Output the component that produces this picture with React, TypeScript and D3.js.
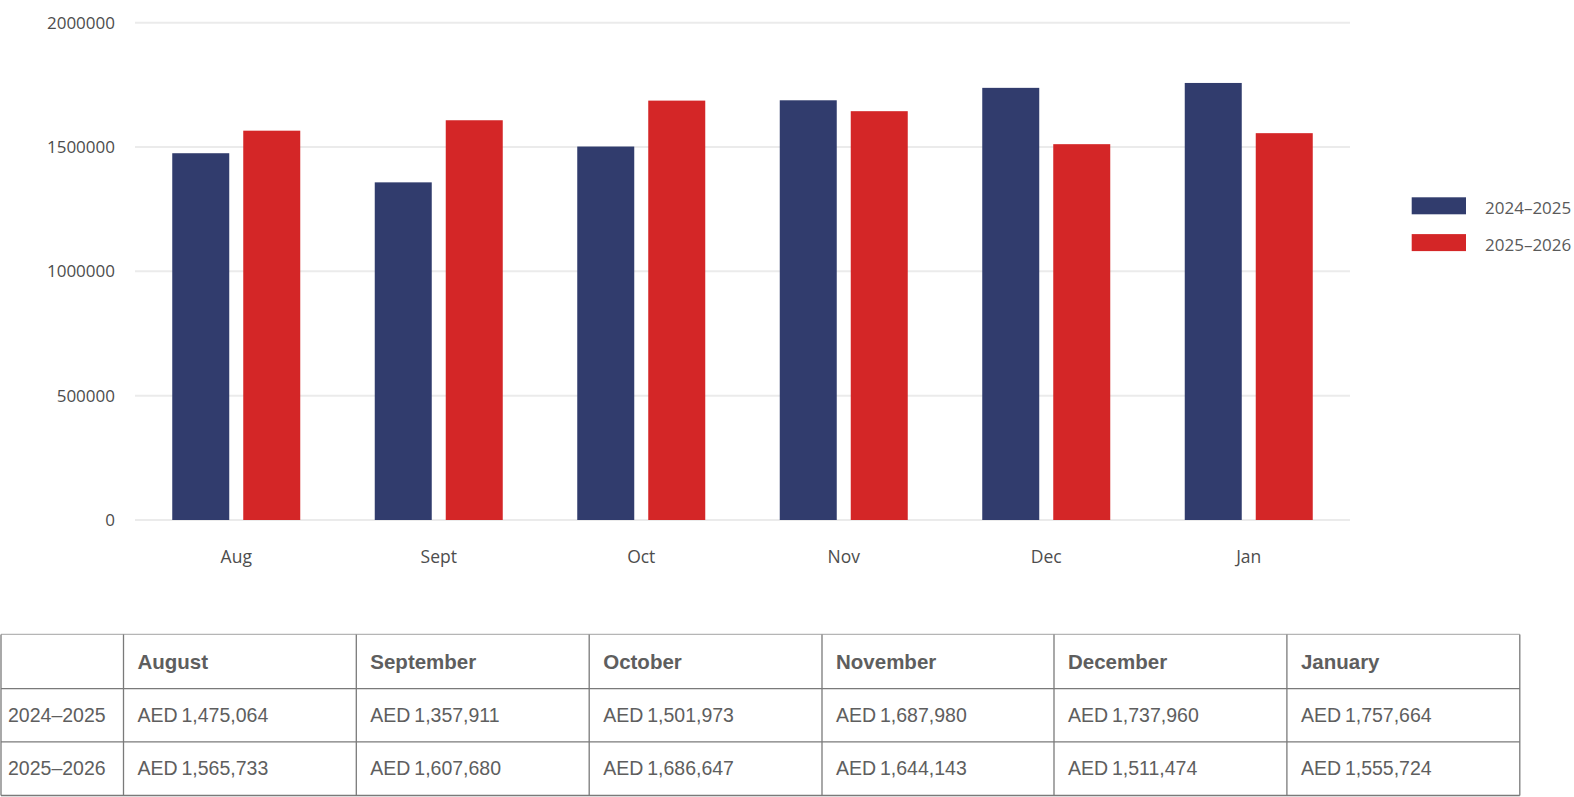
import React from "react";
import * as d3 from "d3";

const months = ["Aug", "Sept", "Oct", "Nov", "Dec", "Jan"];
const monthsFull = ["August", "September", "October", "November", "December", "January"];
const seriesNames = ["2024–2025", "2025–2026"];
const series2425 = [1475064, 1357911, 1501973, 1687980, 1737960, 1757664];
const series2526 = [1565733, 1607680, 1686647, 1644143, 1511474, 1555724];
const yTicks = [0, 500000, 1000000, 1500000, 2000000];
const colors = ["#313c6d", "#d42627"];

const W = 1574;
const H = 797;

export default function App() {
  const x = d3.scaleBand<string>().domain(months).range([135, 1350]).paddingInner(0).paddingOuter(0);
  const y = d3.scaleLinear().domain([0, 2000000]).range([520, 22.7]);
  const inner = d3
    .scaleBand<number>()
    .domain([0, 1])
    .range([x.bandwidth() / 2 - 64, x.bandwidth() / 2 + 64])
    .paddingInner(14 / 71);
  const allSeries = [series2425, series2526];

  const colEdges = [1, 123.5, 356.3, 589.2, 822, 1054, 1286.9, 1519.8];
  const rowEdges = [634.4, 688.6, 741.8, 795.5];
  const fmt = d3.format(",");
  const tableFont = "'Liberation Sans', Arial, sans-serif";
  const chartFont = "'Open Sans', sans-serif";

  return (
    <svg width={W} height={H} style={{ position: "absolute", left: 0, top: 0, background: "#fff" }}>
      {yTicks.map((t) => (
        <g key={t}>
          <line x1={135} x2={1350} y1={y(t)} y2={y(t)} stroke="#ebebeb" strokeWidth={2} />
          <text x={115} y={y(t)} dy="0.35em" textAnchor="end" fontFamily={chartFont} fontSize={17} fill="#4d4d4d">
            {t}
          </text>
        </g>
      ))}
      {months.map((m, i) => (
        <g key={m} transform={`translate(${x(m)},0)`}>
          {allSeries.map((s, j) => (
            <rect
              key={j}
              x={inner(j)}
              width={inner.bandwidth()}
              y={y(s[i])}
              height={y(0) - y(s[i])}
              fill={colors[j]}
            />
          ))}
          <text x={x.bandwidth() / 2} y={557} dy="0.35em" textAnchor="middle" fontFamily={chartFont} fontSize={17.5} fill="#4d4d4d">
            {m}
          </text>
        </g>
      ))}
      {seriesNames.map((n, j) => (
        <g key={n} transform={`translate(0,${j * 36.8})`}>
          <rect x={1411.7} y={197.3} width={54.3} height={17} fill={colors[j]} />
          <text x={1485} y={208.3} dy="0.35em" fontFamily={chartFont} fontSize={17} fill="#5a5a5a">
            {n}
          </text>
        </g>
      ))}
      <g>
        {rowEdges.map((ry, i) => (
          <line key={"r" + i} x1={colEdges[0]} x2={colEdges[colEdges.length - 1]} y1={ry} y2={ry} stroke={i === 0 ? "#b5b5b5" : "#7a7a7a"} strokeWidth={1.3} />
        ))}
        {colEdges.map((cx, i) => (
          <line key={"c" + i} x1={cx} x2={cx} y1={rowEdges[0]} y2={rowEdges[rowEdges.length - 1]} stroke="#7a7a7a" strokeWidth={1.3} />
        ))}
        {monthsFull.map((m, i) => (
          <text key={m} x={colEdges[i + 1] + 14} y={(rowEdges[0] + rowEdges[1]) / 2} dy="0.35em" fontFamily={tableFont} fontWeight="bold" fontSize={20.5} fill="#5e5e5e">
            {m}
          </text>
        ))}
        {allSeries.map((s, j) => (
          <g key={j}>
            <text x={8} y={(rowEdges[j + 1] + rowEdges[j + 2]) / 2} dy="0.35em" fontFamily={tableFont} fontSize={19.5} fill="#5e5e5e">
              {seriesNames[j]}
            </text>
            {s.map((v, i) => (
              <text key={i} x={colEdges[i + 1] + 14} y={(rowEdges[j + 1] + rowEdges[j + 2]) / 2} dy="0.35em" fontFamily={tableFont} fontSize={19.5} fill="#5e5e5e">
                {"AED\u2009" + fmt(v)}
              </text>
            ))}
          </g>
        ))}
      </g>
    </svg>
  );
}
